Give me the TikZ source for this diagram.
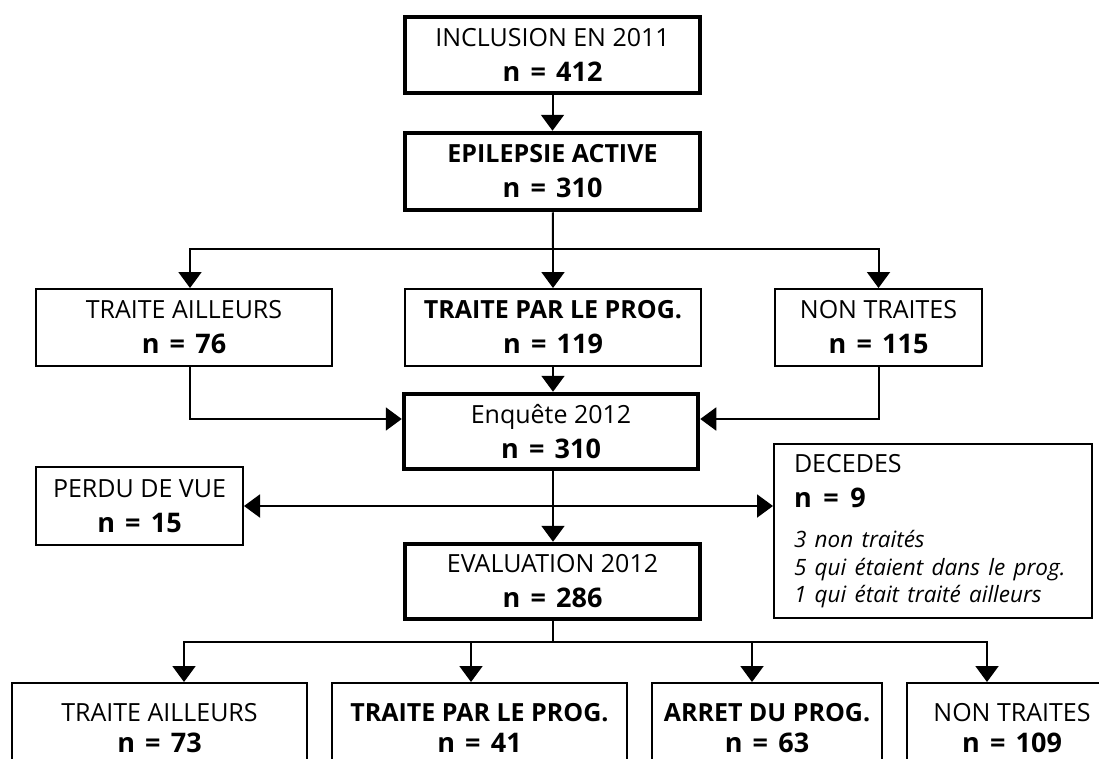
\documentclass[tikz,border=0pt]{standalone}
\usepackage{fontspec}
\setmainfont{Open Sans}
\usetikzlibrary{arrows.meta}

\tikzset{
    box/.style={draw, line width=2pt, align=center, inner sep=0pt, font=\fontsize{25}{35}\selectfont},
    bigbox/.style={box, line width=4.5pt},
    link/.style={line width=2pt},
    flow/.style={link, -{Triangle[width=23pt,length=16pt]}},
    twoway/.style={link, {Triangle[width=23pt,length=16pt]}-{Triangle[width=23pt,length=16pt]}},
}
\newcommand{\nval}[1]{{\fontsize{27}{35}\selectfont\bfseries n\hspace{.12em} = \hspace{.12em}#1}}
\newcommand{\decline}[1]{{\fontsize{22.5}{27}\selectfont\itshape #1}}

\begin{document}
\begin{tikzpicture}[x=1pt, y=-1pt]
    \clip (0,0) rectangle (1099,758);

    \node[bigbox, minimum width=295, minimum height=76] (inc) at (552.5,55) {INCLUSION EN 2011\\ \nval{412}};
    \node[bigbox, minimum width=295, minimum height=77] (epi) at (552.5,171.5) {\textbf{EPILEPSIE ACTIVE}\\ \nval{310}};

    \node[box, minimum width=296, minimum height=77] (ta) at (184,327.5) {TRAITE AILLEURS\\ \nval{76}};
    \node[box, minimum width=296, minimum height=77] (tp) at (553,327.5) {\textbf{TRAITE PAR LE PROG.}\\ \nval{119}};
    \node[box, minimum width=207, minimum height=77] (nt) at (878.5,327.5) {NON TRAITES\\ \nval{115}};

    \node[bigbox, minimum width=294, minimum height=75] (enq) at (551,431.5) {Enquête 2012\\ \nval{310}};
    \node[box, minimum width=207, minimum height=78] (perdu) at (139.5,506) {PERDU DE VUE\\ \nval{15}};
    \node[box, align=left, text width=278, minimum width=316, minimum height=174, inner xsep=20] (dec) at (933,531)
        {DECEDES\\ \nval{9}\\[5pt] \decline{3 non traités}\\[-7pt] \decline{5 qui étaient dans le prog.}\\[-8pt] \decline{1 qui était traité ailleurs}};
    \node[bigbox, minimum width=295, minimum height=75] (eval) at (552.5,581.5) {EVALUATION 2012\\ \nval{286}};

    \node[box, minimum width=295, minimum height=90] (b1) at (159.5,728) {TRAITE AILLEURS\\[-4pt] \nval{73}};
    \node[box, minimum width=295, minimum height=90] (b2) at (479.5,728) {\textbf{TRAITE PAR LE PROG.}\\[-4pt] \nval{41}};
    \node[box, minimum width=230, minimum height=90] (b3) at (767,728) {\textbf{ARRET DU PROG.}\\[-4pt] \nval{63}};
    \node[box, minimum width=210, minimum height=90] (b4) at (1012,728) {NON TRAITES\\[-4pt] \nval{109}};

    \coordinate (fork1) at (553,249);
    \coordinate (fork2) at (552.5,642);

    \draw[flow] (inc) -- (epi);
    \draw[link] (epi) -- (fork1);
    \draw[flow] (fork1) -- (tp);
    \draw[flow] (fork1) -| ([xshift=6]ta.north);
    \draw[flow] (fork1) -| (nt.north);

    \draw[flow] ([xshift=6]ta.south) |- ([yshift=12.5]enq.west);
    \draw[flow] (tp.south) -- (tp.south |- enq.north);
    \draw[flow] (nt.south) |- ([yshift=12.5]enq.east);

    \draw[flow] (enq.south -| fork1) -- (fork1 |- eval.north);
    \draw[twoway] (perdu.east) -- (perdu.east -| dec.west);

    \draw[link] (eval) -- (fork2);
    \draw[flow] (fork2) -| ([xshift=24.5]b1.north);
    \draw[flow] (fork2) -| ([xshift=-8.5]b2.north);
    \draw[flow] (fork2) -| ([xshift=-15]b3.north);
    \draw[flow] (fork2) -| ([xshift=-25]b4.north);
\end{tikzpicture}
\end{document}
